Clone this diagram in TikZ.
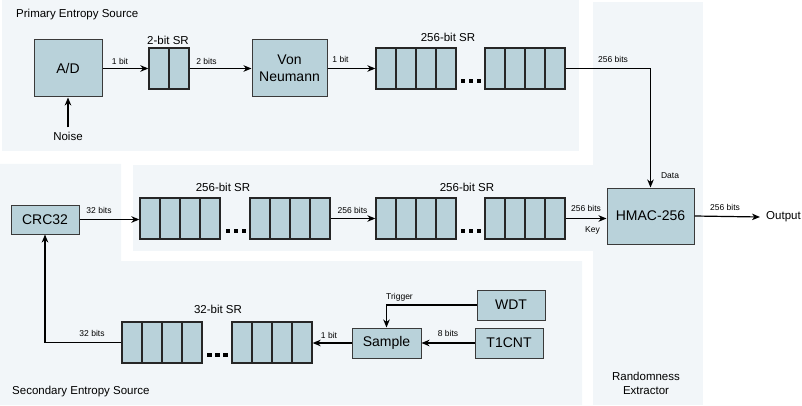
\documentclass[tikz,border=0pt]{standalone}
\usepackage{fontspec}
\setmainfont{Liberation Sans}
\usetikzlibrary{arrows.meta}
\definecolor{regionbg}{HTML}{F2F6F9}
\definecolor{boxfill}{HTML}{B9D2DA}
\definecolor{boxline}{HTML}{3A3A3A}
\newcommand\srgroup[3]{\foreach \i in {0,...,3} {\node[cell] (#1\i) at ({#2+10+20*\i},#3) {};}}
\newcommand\srdots[2]{\foreach \k in {0,1,2} {\fill ({#1+\k*8-2.2},{#2-2.2}) rectangle +(4.4,-4.4);}}
\begin{document}
\begin{tikzpicture}[x=1pt,y=-1pt,
  blk/.style={draw=boxline, line width=1pt, fill=boxfill, inner sep=0, font=\fontsize{14}{17}\selectfont, align=center},
  cell/.style={draw=black!85, line width=1.3pt, fill=boxfill, minimum width=20pt, minimum height=41pt, inner sep=0},
  lbl/.style={font=\fontsize{8.5}{10}\selectfont, inner sep=0},
  ttl/.style={font=\fontsize{11.5}{14}\selectfont, inner sep=0, align=center},
  arr/.style={line width=1.2pt, -{Stealth[length=8pt,width=6.5pt,inset=2.5pt]}}]
\useasboundingbox (0,0) rectangle (802,406);
% regions
\fill[regionbg] (2,0) rectangle (579,151);
\fill[regionbg] (593,2) rectangle (703,405);
\fill[regionbg] (133,165) rectangle (593,251);
\fill[regionbg] (0,164) -- (121,164) -- (121,261) -- (582,261) -- (582,405) -- (0,405) -- cycle;
% region titles
\node[ttl, anchor=west] (tprim) at (16,15) {Primary Entropy Source};
\node[ttl, anchor=west] (tsec) at (12,392) {Secondary Entropy Source};
\node[ttl] (tre) at (646,383) {Randomness\\Extractor};
% top row
\node[blk, minimum width=68pt, minimum height=57pt] (ad) at (68,68.5) {A/D};
\node[ttl] (noise) at (68,136.5) {Noise};
\coordinate (nz) at (68,127.5);
\node[cell] (twa) at (159,68.5) {};
\node[cell] (twb) at (179,68.5) {};
\node[ttl] (twlbl) at (168,40) {2-bit SR};
\node[blk, minimum width=75pt, minimum height=57pt] (vn) at (289.5,68.5) {Von\\Neumann};
\srgroup{ta}{376}{68.5}
\srdots{463}{85.5}
\srgroup{tb}{485}{68.5}
\node[ttl] (talbl) at (448,37) {256-bit SR};
% middle row
\node[blk, minimum width=68pt, minimum height=29pt] (crc) at (45,219.5) {CRC32};
\srgroup{ma}{140}{218.5}
\srdots{228}{235.5}
\srgroup{mb}{250}{218.5}
\node[ttl] (malbl) at (223,187) {256-bit SR};
\srgroup{mc}{376}{218.5}
\srdots{463}{235.5}
\srgroup{md}{485}{218.5}
\node[ttl] (mclbl) at (467,187) {256-bit SR};
\node[blk, minimum width=87pt, minimum height=56pt] (hmac) at (650.5,216) {HMAC-256};
\node[ttl, anchor=west, inner xsep=0pt] (output) at (766,217) {Output};
% bottom row
\srgroup{ba}{122}{342.5}
\srdots{209.5}{359.5}
\srgroup{bb}{232}{342.5}
\node[ttl] (balbl) at (218,309) {32-bit SR};
\node[blk, minimum width=69pt, minimum height=30pt] (sample) at (386.5,343) {Sample};
\node[blk, minimum width=68pt, minimum height=30pt] (wdt) at (511,305) {WDT};
\node[blk, minimum width=68pt, minimum height=30pt] (t1) at (509,343) {T1CNT};
% connectors
\draw[arr] (ad.east) -- (twa.west);
\draw[arr] (twb.east) -- (vn.west);
\draw[arr] (vn.east) -- (ta0.west);
\draw[arr] (tb3.east) -| (hmac.north);
\draw[arr] (nz) -- (ad.south);
\draw[arr] (crc.east) -- (crc.east -| ma0.west);
\draw[arr] (mb3.east) -- (mc0.west);
\draw[arr] (md3.east) -- (md3.east -| hmac.west);
\draw[arr] (hmac.east) -- ([xshift=-6pt]output.west);
\draw[arr] (ba0.west) -| (crc.south);
\draw[arr] (sample.west) -- (sample.west -| bb3.east);
\draw[arr] (t1.west) -- (t1.west -| sample.east);
\draw[arr] (wdt.west) -| (sample.north);
% connector labels
\node[lbl] (l1) at (120,61) {1 bit};
\node[lbl] (l2) at (206.5,61) {2 bits};
\node[lbl] (l3) at (340.5,59.5) {1 bit};
\node[lbl] (l4) at (613,59) {256 bits};
\node[lbl] (l5) at (670,176) {Data};
\node[lbl] (l6) at (725,207) {256 bits};
\node[lbl] (l7) at (99,210) {32 bits};
\node[lbl] (l8) at (352.5,210) {256 bits};
\node[lbl] (l9) at (586,208) {256 bits};
\node[lbl] (l10) at (592.5,230) {Key};
\node[lbl] (l11) at (92,333) {32 bits};
\node[lbl] (l12) at (329,335) {1 bit};
\node[lbl] (l13) at (399.5,297) {Trigger};
\node[lbl] (l14) at (448,333) {8 bits};
\end{tikzpicture}
\end{document}
